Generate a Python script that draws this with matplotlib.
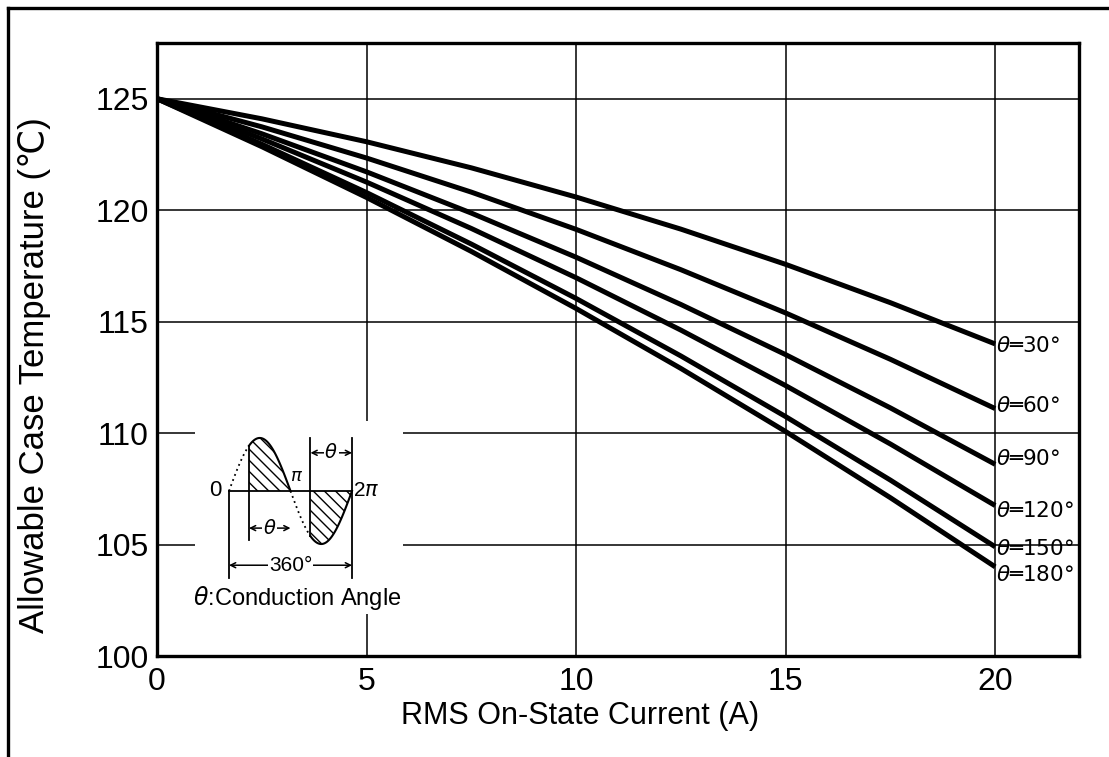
import matplotlib
matplotlib.use("Agg")
import matplotlib.pyplot as plt
import numpy as np
from matplotlib.lines import Line2D

# RMS on-state current (A) and allowable case temperature (C) per conduction angle
current = [0, 2.5, 5, 7.5, 10, 12.5, 15, 17.5, 20]
temp_30 = [125, 124.10, 123.07, 121.90, 120.59, 119.15, 117.57, 115.85, 114.00]
temp_60 = [125, 123.74, 122.34, 120.81, 119.14, 117.33, 115.39, 113.31, 111.10]
temp_90 = [125, 123.43, 121.72, 119.87, 117.89, 115.77, 113.52, 111.13, 108.60]
temp_120 = [125, 123.20, 121.26, 119.18, 116.97, 114.62, 112.13, 109.51, 106.75]
temp_150 = [125, 122.96, 120.79, 118.48, 116.04, 113.46, 110.74, 107.89, 104.90]
temp_180 = [125, 122.85, 120.57, 118.15, 115.59, 112.90, 110.07, 107.10, 104.00]
angles = [30, 60, 90, 120, 150, 180]
series = [temp_30, temp_60, temp_90, temp_120, temp_150, temp_180]
label_y = [113.9, 111.2, 108.85, 106.5, 104.8, 103.65]

x_ticks = [0, 5, 10, 15, 20]
y_ticks = [100, 105, 110, 115, 120, 125]

plt.rcParams['font.family'] = ['Liberation Sans', 'DejaVu Sans']
plt.rcParams['mathtext.fontset'] = 'dejavusans'
plt.rcParams['hatch.linewidth'] = 1.0

W, H = 1109, 757
fig = plt.figure(figsize=(W / 100, H / 100), dpi=100)

# outer frame (top and left edges only)
fig.add_artist(Line2D([8 / W, 1], [1 - 8 / H, 1 - 8 / H], color='black', lw=2.4))
fig.add_artist(Line2D([8 / W, 8 / W], [0, 1 - 8 / H], color='black', lw=2.4))

ax = fig.add_axes([157 / W, 1 - 656 / H, (1079 - 157) / W, (656 - 43) / H])
ax.set_xlim(0, 22)
ax.set_ylim(100, 127.5)
ax.set_xticks(x_ticks)
ax.set_yticks(y_ticks)
ax.grid(True, color='black', linewidth=1.1)
ax.set_axisbelow(True)
ax.tick_params(length=0, labelsize=23)
ax.tick_params(axis='y', pad=6)
ax.tick_params(axis='x', pad=8)
for s in ax.spines.values():
    s.set_linewidth(2.4)

for vals, ang, ly in zip(series, angles, label_y):
    ax.plot(current, vals, color='black', lw=3.6, solid_capstyle='butt')
    ax.text(20.03, ly, r"$\theta$" + f"═{ang}°", fontsize=15.5, va='center', ha='left',
            family=['DejaVu Sans'])

fig.text(35 / W, 1 - 375 / H, "Allowable Case Temperature (℃)", rotation=90,
         ha='center', va='center', fontsize=25)
fig.text(580 / W, 1 - 716 / H, "RMS On-State Current (A)", ha='center', va='center',
         fontsize=22)

# inset: conduction angle sketch
ins = fig.add_axes([195 / W, 1 - 614 / H, 208 / W, 193 / H], zorder=5)
ins.set_facecolor('white')
ins.set_xticks([])
ins.set_yticks([])
for s in ins.spines.values():
    s.set_visible(False)
ins.set_xlim(-1.736, 8.887)
ins.set_ylim(-2.32, 1.32)

a = 1.02
two_pi = 2 * np.pi
t1 = np.linspace(0, a, 40)
t2 = np.linspace(a, np.pi, 80)
t3 = np.linspace(np.pi, np.pi + a, 40)
t4 = np.linspace(np.pi + a, two_pi, 80)
ins.plot(t1, np.sin(t1), color='black', lw=1.3, ls=(0, (1, 2)))
ins.plot(t3, np.sin(t3), color='black', lw=1.3, ls=(0, (1, 2)))
ins.plot(t2, np.sin(t2), color='black', lw=1.5)
ins.plot(t4, np.sin(t4), color='black', lw=1.5)
ins.fill_between(t2, np.sin(t2), 0, facecolor='none', edgecolor='black', hatch='\\\\\\', lw=0)
ins.fill_between(t4, np.sin(t4), 0, facecolor='none', edgecolor='black', hatch='\\\\\\', lw=0)

lk = dict(color='black', lw=1.3)
ins.plot([0, two_pi], [0, 0], **lk)
ins.plot([0, 0], [0, -1.64], **lk)
ins.plot([two_pi, two_pi], [1.0, -1.64], **lk)
ins.plot([a, a], [np.sin(a), -0.92], **lk)
ins.plot([np.pi + a, np.pi + a], [1.0, -np.sin(a)], **lk)


def dim(x0, x1, y, label, fs=14):
    xm = (x0 + x1) / 2
    ap = dict(arrowstyle='->', lw=1.1, color='black', shrinkA=0, shrinkB=0, mutation_scale=9)
    ins.annotate('', xy=(x0, y), xytext=(xm, y), arrowprops=ap)
    ins.annotate('', xy=(x1, y), xytext=(xm, y), arrowprops=ap)
    ins.text(xm, y, label, ha='center', va='center', fontsize=fs,
             bbox=dict(facecolor='white', edgecolor='none', pad=0.5))


dim(np.pi + a, two_pi, 0.72, r"$\theta$")
dim(a, np.pi, -0.70, r"$\theta$")
dim(0, two_pi, -1.40, "360°", fs=15)

ins.text(-0.72, 0, "0", ha='center', va='center', fontsize=16)
ins.text(3.47, 0.28, r"$\pi$", ha='center', va='center', fontsize=13)
ins.text(6.35, 0, r"2$\pi$", ha='left', va='center', fontsize=15)
ins.text(3.47, -2.02, r"$\theta$:Conduction Angle", ha='center', va='center', fontsize=17)

fig.savefig("out.png", dpi=100)
